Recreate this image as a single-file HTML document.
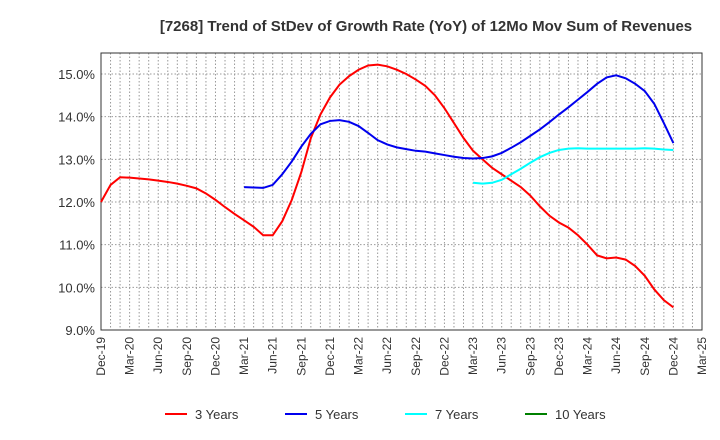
<!DOCTYPE html>
<html><head><meta charset="utf-8"><style>body{margin:0;background:#fff}svg{display:block;font-family:"Liberation Sans",sans-serif}</style></head>
<body>
<svg id="chart" width="720" height="440" viewBox="0 0 720 440">
<text x="426" y="31" text-anchor="middle" font-size="15" font-weight="bold" fill="#333">[7268]  Trend of StDev of Growth Rate (YoY) of 12Mo Mov Sum of Revenues</text>
<g id="grid"></g><g id="axes"></g><g id="series"></g><g id="legend"></g>
</svg>
<script>
const xLabels=["Dec-19","Mar-20","Jun-20","Sep-20","Dec-20","Mar-21","Jun-21","Sep-21","Dec-21","Mar-22","Jun-22","Sep-22","Dec-22","Mar-23","Jun-23","Sep-23","Dec-23","Mar-24","Jun-24","Sep-24","Dec-24","Mar-25"];
const yTicks=[9,10,11,12,13,14,15];
const s3=[12.0,12.4,12.58,12.57,12.55,12.53,12.5,12.47,12.43,12.38,12.32,12.2,12.05,11.88,11.72,11.57,11.42,11.22,11.22,11.55,12.05,12.7,13.5,14.05,14.45,14.75,14.95,15.1,15.2,15.22,15.18,15.1,15.0,14.87,14.72,14.5,14.2,13.85,13.5,13.2,13.0,12.8,12.65,12.5,12.35,12.15,11.9,11.68,11.52,11.4,11.22,11.0,10.75,10.68,10.7,10.65,10.5,10.27,9.95,9.7,9.53];
const s5start=15;
const s5=[12.35,12.34,12.33,12.4,12.65,12.95,13.3,13.6,13.82,13.9,13.92,13.88,13.78,13.62,13.45,13.35,13.28,13.24,13.2,13.18,13.14,13.1,13.06,13.03,13.02,13.03,13.07,13.15,13.27,13.4,13.55,13.7,13.87,14.05,14.22,14.4,14.58,14.77,14.92,14.97,14.9,14.77,14.6,14.3,13.85,13.38];
const s7start=39;
const s7=[12.45,12.43,12.45,12.52,12.65,12.78,12.92,13.05,13.15,13.22,13.25,13.26,13.25,13.25,13.25,13.25,13.25,13.25,13.26,13.25,13.23,13.22];
const s10=[];
const NS="http://www.w3.org/2000/svg";
const L=101,R=702,T=53,B=330,nMonths=63;
const xs=i=>L+(R-L)*i/nMonths;
const ys=v=>B-(v-9)*(B-74)/6;
function mk(tag,attrs,parent){const e=document.createElementNS(NS,tag);for(const k in attrs)e.setAttribute(k,attrs[k]);parent.appendChild(e);return e;}
const grid=document.getElementById('grid'),axes=document.getElementById('axes'),ser=document.getElementById('series'),leg=document.getElementById('legend');
for(let i=1;i<nMonths;i++){const g=mk('line',{x1:xs(i),x2:xs(i),y1:T,y2:B,stroke:'#999','stroke-dasharray':'1.5,2','stroke-width':1},grid);

}
yTicks.forEach(v=>{if(v>9){const g=mk('line',{x1:L,x2:R,y1:ys(v),y2:ys(v),stroke:'#999','stroke-dasharray':'1.5,2'},grid);

}
const t=mk('text',{x:L-6,y:ys(v)+5,'text-anchor':'end','font-size':13,fill:'#333'},axes);t.textContent=v.toFixed(1)+'%';

});
const fr=mk('rect',{x:L,y:T,width:R-L,height:B-T,fill:'none',stroke:'#333'},axes);


xLabels.forEach((lb,k)=>{const x=xs(k*3);const t=mk('text',{transform:`translate(${x+4},${B+7}) rotate(-90)`,'text-anchor':'end','font-size':12,fill:'#333'},axes);t.textContent=lb;

});
function line(arr,start,color,name){if(!arr.length)return;const p=mk('polyline',{points:arr.map((v,i)=>xs(start+i)+','+ys(v)).join(' '),fill:'none',stroke:color,'stroke-width':2},ser);

}
line(s3,0,'#ff0000','series-3-years');line(s5,s5start,'#0000ee','series-5-years');line(s7,s7start,'#00ffff','series-7-years');line(s10,0,'#008000','series-10-years');
[["3 Years","#ff0000",185],["5 Years","#0000ee",305],["7 Years","#00ffff",425],["10 Years","#008000",545]].forEach(([n,c,x])=>{
const g=mk('g',{},leg);

mk('line',{x1:x-20,x2:x+2,y1:414,y2:414,stroke:c,'stroke-width':2},g);
const t=mk('text',{x:x+10,y:419,'font-size':13,fill:'#333'},g);t.textContent=n;});
</script>
</body></html>
